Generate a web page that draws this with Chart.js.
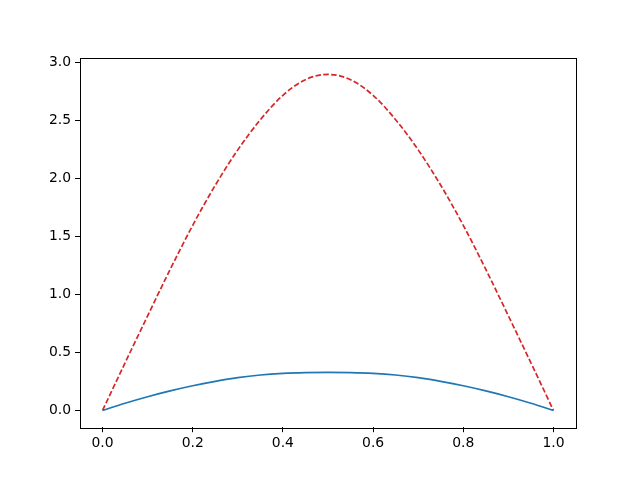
<!DOCTYPE html>
<html>
<head>
<meta charset="utf-8">
<script src="https://cdn.jsdelivr.net/npm/chart.js@4"></script>
<style>
  html, body { margin: 0; padding: 0; background: #fff; }
  #wrap { width: 640px; height: 480px; }
</style>
</head>
<body>
<div id="wrap"><canvas id="chart" width="640" height="480"></canvas></div>
<script>
// values
var xs = [0, 0.05, 0.1, 0.15, 0.2, 0.25, 0.3, 0.35, 0.4, 0.45, 0.5,
          0.55, 0.6, 0.65, 0.7, 0.75, 0.8, 0.85, 0.9, 0.95, 1.0];
var blueVals = [0, 0.062, 0.118, 0.168, 0.212, 0.250, 0.282, 0.305, 0.319, 0.326, 0.328,
                0.326, 0.319, 0.305, 0.282, 0.250, 0.212, 0.168, 0.118, 0.062, 0];
var redVals = [0, 0.41, 0.815, 1.215, 1.595, 1.94, 2.245, 2.505, 2.715, 2.85, 2.895,
               2.85, 2.715, 2.505, 2.245, 1.94, 1.595, 1.215, 0.815, 0.41, 0];
var xTicks = [0, 0.2, 0.4, 0.6, 0.8, 1.0];
var yTicks = [0, 0.5, 1.0, 1.5, 2.0, 2.5, 3.0];

function pts(vals) {
    return xs.map(function (x, i) { return { x: x, y: vals[i] }; });
}

// the box round the plot (matplotlib spines)
var framePlugin = {
    id: 'frame',
    afterDraw: function (chart) {
        var a = chart.chartArea, ctx = chart.ctx;
        ctx.save();
        ctx.strokeStyle = '#000';
        ctx.lineWidth = 1;
        ctx.strokeRect(Math.round(a.left) + 0.5, Math.round(a.top) + 0.5,
                       Math.round(a.right - a.left), Math.round(a.bottom - a.top));
        ctx.restore();
    }
};

var font = { family: 'DejaVu Sans', size: 13.9 };

window.onload = function () {
    var ctx = document.getElementById('chart').getContext('2d');
    new Chart(ctx, {
        type: 'line',
        data: {
            datasets: [{
                data: pts(blueVals),
                borderColor: '#1f77b4',
                borderWidth: 1.7,
                pointRadius: 0,
                cubicInterpolationMode: 'monotone',
                fill: false
            }, {
                data: pts(redVals),
                borderColor: '#d62728',
                borderWidth: 1.7,
                borderDash: [5.5, 2.4],
                pointRadius: 0,
                cubicInterpolationMode: 'monotone',
                fill: false
            }]
        },
        options: {
            responsive: false,
            animation: false,
            layout: { padding: { left: 0, top: 57.6, right: 64, bottom: 0 } },
            plugins: { legend: { display: false }, tooltip: { enabled: false } },
            scales: {
                x: {
                    type: 'linear',
                    min: -0.05,
                    max: 1.05,
                    afterBuildTicks: function (s) { s.ticks = xTicks.map(function (v) { return { value: v }; }); },
                    afterFit: function (s) { s.height = 52.8; },
                    ticks: {
                        color: '#000',
                        font: font,
                        padding: 3,
                        maxRotation: 0,
                        callback: function (v) { return Number(v).toFixed(1); }
                    },
                    grid: { drawOnChartArea: false, tickLength: 5, tickColor: '#000', tickWidth: 1 },
                    border: { display: false }
                },
                y: {
                    type: 'linear',
                    min: -0.1448,
                    max: 3.04,
                    afterBuildTicks: function (s) { s.ticks = yTicks.map(function (v) { return { value: v }; }); },
                    afterFit: function (s) { s.width = 80; },
                    ticks: {
                        color: '#000',
                        font: font,
                        padding: 4,
                        callback: function (v) { return Number(v).toFixed(1); }
                    },
                    grid: { drawOnChartArea: false, tickLength: 5, tickColor: '#000', tickWidth: 1 },
                    border: { display: false }
                }
            }
        },
        plugins: [framePlugin]
    });
};
</script>
</body>
</html>
